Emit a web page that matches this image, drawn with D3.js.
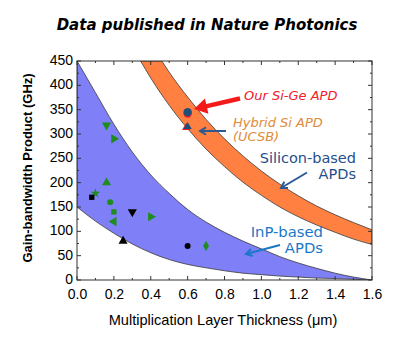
<!DOCTYPE html>
<html><head><meta charset="utf-8">
<script src="https://cdn.jsdelivr.net/npm/d3@7"></script>
<style>body{margin:0;background:#fff;} svg{display:block;}</style>
</head><body>
<svg id="c" width="400" height="347"></svg>
<script>
// ---- data ----
const blueUpper = [[0,450],[0.1,385],[0.2,320],[0.3,263],[0.4,216],[0.5,178],[0.6,145],[0.7,119],[0.8,98],[0.9,80],[1.0,64],[1.1,48],[1.2,35],[1.3,24],[1.4,14],[1.5,6],[1.6,0]];
const blueLower = [[0,150],[0.1,121],[0.2,96],[0.3,74],[0.4,56],[0.5,42],[0.6,32],[0.7,25],[0.8,19],[0.9,14],[1.0,11],[1.1,8],[1.2,6],[1.3,4],[1.4,3],[1.5,1.5],[1.6,0]];
const orangeInner = [[0.345,450],[0.4,415],[0.5,359],[0.6,311],[0.7,269],[0.8,233],[0.9,201],[1.0,174],[1.1,150],[1.2,130],[1.3,113],[1.4,98],[1.5,84],[1.6,73]];
const orangeOuter = [[0.46,450],[0.5,427],[0.6,376],[0.7,330],[0.8,290],[0.9,255],[1.0,224],[1.1,197],[1.2,173],[1.3,152],[1.4,134],[1.5,118],[1.6,103]];
// published devices: [thickness, GBP, symbol, colour]
const points = [
  [0.16,318,"tri-down","g"],[0.20,290,"tri-right","g"],[0.16,200,"tri-up","g"],
  [0.10,178,"star","g"],[0.08,170,"square","k"],[0.18,160,"circle","g"],
  [0.20,140,"square","g"],[0.20,120,"tri-left","g"],[0.30,140,"tri-down","k"],
  [0.40,130,"tri-right","g"],[0.25,80,"tri-up","k"],[0.60,70,"circle","k"],
  [0.70,70,"diamond","g"]
];
const sige = [0.6,345];
const hybrid = [0.6,315];
const xTicks = [0,0.2,0.4,0.6,0.8,1.0,1.2,1.4,1.6];
const yTicks = [0,50,100,150,200,250,300,350,400,450];

// ---- layout ----
const L=77,T=61,R=372,B=280;
const svg=d3.select("#c");
const x=d3.scaleLinear().domain([0,1.6]).range([L,R]);
const y=d3.scaleLinear().domain([0,450]).range([B,T]);

svg.append("defs").append("clipPath").attr("id","clip")
  .append("rect").attr("x",L).attr("y",T).attr("width",R-L).attr("height",B-T);
const plot=svg.append("g").attr("clip-path","url(#clip)");

const line=d3.line().x(d=>x(d[0])).y(d=>y(d[1])).curve(d3.curveMonotoneX);
function band(a,b){
  return line(a)+ "L" + line(b.slice().reverse()).slice(1) + "Z";
}
plot.append("path").attr("d",band(blueUpper,blueLower))
  .attr("fill","#7f7ff7").attr("stroke","#3a3a3a").attr("stroke-width",0.8);
plot.append("path").attr("d",band(orangeInner,orangeOuter))
  .attr("fill","#ff8040").attr("stroke","#3a3a3a").attr("stroke-width",0.8);

// markers
const col={g:"#1e8c1e",k:"#000"};
function sym(s){
  switch(s){
    case "tri-down": case "tri-up": case "tri-right": case "tri-left":
      return d3.symbol(d3.symbolTriangle,36)();
    case "star": return d3.symbol(d3.symbolStar,30)();
    case "square": return d3.symbol(d3.symbolSquare,28)();
    case "circle": return d3.symbol(d3.symbolCircle,28)();
    case "diamond": return d3.symbol(d3.symbolDiamond,30)();
  }
}
const rot={"tri-down":180,"tri-right":90,"tri-left":-90,"tri-up":0};
plot.selectAll("path.pt").data(points).join("path").attr("class","pt")
  .attr("d",d=>sym(d[2])).attr("fill",d=>col[d[3]])
  .attr("transform",d=>`translate(${x(d[0])},${y(d[1])}) rotate(${rot[d[2]]||0})`);

// our SiGe and hybrid markers
plot.append("circle").attr("cx",x(sige[0])).attr("cy",y(sige[1])+1.5).attr("r",4.2).attr("fill","#e8202a");
plot.append("circle").attr("cx",x(sige[0])).attr("cy",y(sige[1])).attr("r",4.2).attr("fill","#1f4e79");
plot.append("path").attr("d",d3.symbol(d3.symbolTriangle,30)()).attr("fill","#e8202a")
  .attr("transform",`translate(${x(hybrid[0])-1.5},${y(hybrid[1])+1})`);
plot.append("path").attr("d",d3.symbol(d3.symbolTriangle,30)()).attr("fill","#1f4e79")
  .attr("transform",`translate(${x(hybrid[0])},${y(hybrid[1])})`);

// frame and ticks
svg.append("rect").attr("x",L).attr("y",T).attr("width",R-L).attr("height",B-T)
  .attr("fill","none").attr("stroke","#333").attr("stroke-width",1);
const tk=svg.append("g").attr("stroke","#333").attr("stroke-width",1);
d3.range(0,1.61,0.1).forEach(v=>{
  const len = Math.round(v*10)%2===0?4:2;
  tk.append("line").attr("x1",x(v)).attr("x2",x(v)).attr("y1",B).attr("y2",B-len);
  tk.append("line").attr("x1",x(v)).attr("x2",x(v)).attr("y1",T).attr("y2",T+len);
});
d3.range(0,451,25).forEach(v=>{
  const len = v%50===0?4:2;
  tk.append("line").attr("y1",y(v)).attr("y2",y(v)).attr("x1",L).attr("x2",L+len);
  tk.append("line").attr("y1",y(v)).attr("y2",y(v)).attr("x1",R).attr("x2",R-len);
});

// axes labels via d3 axis (no lines)
const ax=svg.append("g").attr("transform",`translate(0,${B+1})`)
  .call(d3.axisBottom(x).tickValues(xTicks).tickFormat(d3.format(".1f")).tickSize(0).tickPadding(8));
const ay=svg.append("g").attr("transform",`translate(${L},-1)`)
  .call(d3.axisLeft(y).tickValues(yTicks).tickSize(0).tickPadding(4));
[ax,ay].forEach(a=>{a.select(".domain").remove();
  a.selectAll("text").attr("font-family","Liberation Sans, Arial, sans-serif").attr("font-size",14).attr("fill","#000");});

svg.append("text").attr("x",223).attr("y",325).attr("text-anchor","middle")
  .attr("font-family","Liberation Sans, Arial, sans-serif").attr("font-size",14.6)
  .text("Multiplication Layer Thickness (\u03bcm)");
svg.append("text").attr("transform","translate(32,168) rotate(-90)").attr("text-anchor","middle")
  .attr("font-family","Liberation Sans, Arial, sans-serif").attr("font-size",13).attr("font-weight","bold")
  .text("Gain-bandwidth Product (GHz)");
svg.append("text").attr("x",207).attr("y",29.5).attr("text-anchor","middle")
  .attr("font-family","DejaVu Sans, Verdana, sans-serif").attr("font-size",15)
  .attr("font-weight","bold").attr("font-style","italic").text("Data published in Nature Photonics");

// annotations
const ff="DejaVu Sans, Verdana, sans-serif";
svg.append("text").attr("x",244).attr("y",100).attr("font-family",ff).attr("font-size",13)
  .attr("font-style","italic").attr("fill","#f0202a").text("Our Si-Ge APD");
svg.append("text").attr("x",233).attr("y",126.5).attr("font-family",ff).attr("font-size",13)
  .attr("font-style","italic").attr("fill","#e08a3a").text("Hybrid Si APD");
svg.append("text").attr("x",233).attr("y",141).attr("font-family",ff).attr("font-size",13)
  .attr("font-style","italic").attr("fill","#e08a3a").text("(UCSB)");
svg.append("text").attr("x",356).attr("y",163).attr("text-anchor","end").attr("font-family",ff).attr("font-size",14.5)
  .attr("fill","#1f4e8c").text("Silicon-based");
svg.append("text").attr("x",356).attr("y",179).attr("text-anchor","end").attr("font-family",ff).attr("font-size",14.5)
  .attr("fill","#1f4e8c").text("APDs");
svg.append("text").attr("x",323).attr("y",236.5).attr("text-anchor","end").attr("font-family",ff).attr("font-size",14.8)
  .attr("fill","#1a78c8").text("InP-based");
svg.append("text").attr("x",323).attr("y",252.5).attr("text-anchor","end").attr("font-family",ff).attr("font-size",14.8)
  .attr("fill","#1a78c8").text("APDs");

// arrows
function arrow(x1,y1,x2,y2,color,w,head,open){
  const a=Math.atan2(y2-y1,x2-x1);
  const bx=x2-head*Math.cos(a), by=y2-head*Math.sin(a);
  const px=-Math.sin(a)*head*0.6, py=Math.cos(a)*head*0.6;
  if(open){
    svg.append("line").attr("x1",x1).attr("y1",y1).attr("x2",x2).attr("y2",y2).attr("stroke",color).attr("stroke-width",w);
    svg.append("path").attr("d",`M${bx+px},${by+py}L${x2},${y2}L${bx-px},${by-py}`)
      .attr("fill","none").attr("stroke",color).attr("stroke-width",w).attr("stroke-linejoin","miter");
  } else {
    svg.append("line").attr("x1",x1).attr("y1",y1).attr("x2",bx+Math.cos(a)*1).attr("y2",by+Math.sin(a)*1).attr("stroke",color).attr("stroke-width",w);
    svg.append("path").attr("d",`M${bx+px},${by+py}L${x2},${y2}L${bx-px},${by-py}Z`).attr("fill",color);
  }
}
arrow(240,98.5,194,109,"#f41a1a",4.5,13,false);
arrow(226,131,200,131,"#2a5a90",2,6,true);
arrow(307,172.5,281,188,"#2a5a90",2,6,true);
arrow(280,245,246,254,"#1a78c8",2,6,true);
</script>
</body></html>
